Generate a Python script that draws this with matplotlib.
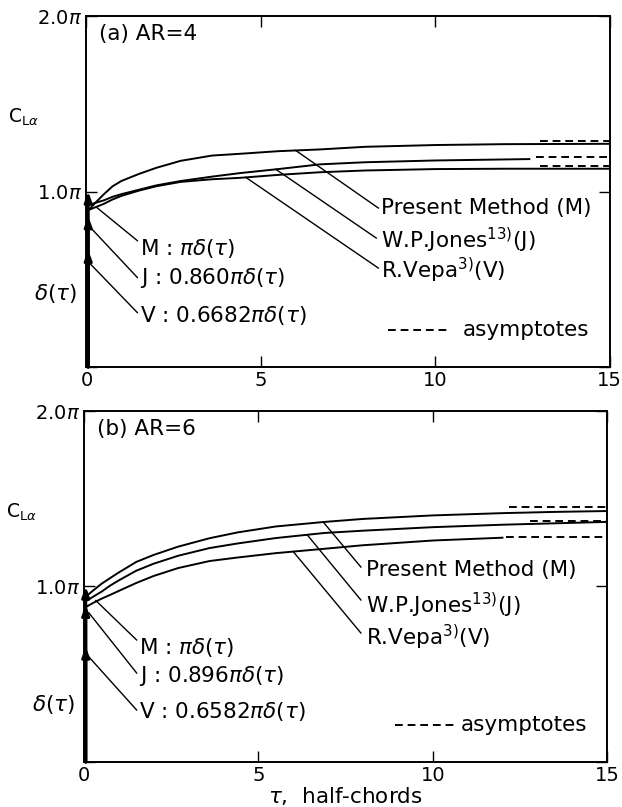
import numpy as np
import matplotlib.pyplot as plt

plt.rcParams['font.family'] = 'DejaVu Sans'
plt.rcParams['mathtext.fontset'] = 'dejavusans'

# C_La in units of pi, read against tau (half-chords)
# (a) AR = 4
tau_a = [0, 0.25, 0.5, 0.75, 1.0, 1.5, 2.0, 2.7, 3.6, 4.4, 5.5, 6.7, 8.0, 10.0, 12.0, 13.5, 15.0]
cl_m_a = [0.88, 0.935, 0.985, 1.03, 1.06, 1.10, 1.135, 1.175, 1.205, 1.215, 1.23, 1.24, 1.255, 1.265, 1.27, 1.271, 1.272]
tau_j_a = [0, 0.25, 0.5, 0.75, 1.0, 1.5, 2.0, 2.7, 3.6, 4.4, 5.5, 6.7, 8.0, 10.0, 12.7]
cl_j_a = [0.92, 0.935, 0.95, 0.97, 0.985, 1.01, 1.035, 1.06, 1.085, 1.105, 1.128, 1.155, 1.167, 1.177, 1.185]
cl_v_a = [0.89, 0.91, 0.93, 0.955, 0.975, 1.005, 1.03, 1.055, 1.07, 1.078, 1.095, 1.11, 1.12, 1.128, 1.13, 1.13, 1.13]
asym_a = [1.288, 1.197, 1.145]
asym_from_a = [13.0, 12.9, 13.0]
delta_coef_a = ['1', '0.860', '0.6682']

# (b) AR = 6
tau_b = [0, 0.25, 0.5, 0.75, 1.0, 1.5, 2.0, 2.7, 3.6, 4.4, 5.5, 6.9, 8.0, 10.0, 12.0, 13.5, 15.0]
cl_m_b = [0.934, 0.975, 1.015, 1.048, 1.08, 1.14, 1.18, 1.227, 1.275, 1.308, 1.342, 1.368, 1.385, 1.405, 1.418, 1.425, 1.43]
cl_j_b = [0.91, 0.94, 0.97, 1.005, 1.035, 1.09, 1.13, 1.175, 1.219, 1.245, 1.276, 1.305, 1.318, 1.338, 1.352, 1.36, 1.368]
tau_v_b = [0, 0.25, 0.5, 0.75, 1.0, 1.5, 2.0, 2.7, 3.6, 4.4, 5.5, 6.9, 8.0, 10.0, 12.0]
cl_v_b = [0.877, 0.905, 0.93, 0.952, 0.975, 1.02, 1.06, 1.105, 1.145, 1.165, 1.19, 1.215, 1.235, 1.262, 1.278]
asym_b = [1.453, 1.373, 1.28]
asym_from_b = [12.2, 12.8, 12.1]
delta_coef_b = ['1', '0.896', '0.6582']

method_names = ['M', 'J', 'V']
method_labels = ['Present Method (M)', r'W.P.Jones$^{\mathrm{13)}}$(J)', r'R.Vepa$^{\mathrm{3)}}$(V)']

FS = 15.5
TICK_FS = 14


def draw_panel(ax, title, curves, asym, asym_from, delta_coef, lay):
    ax.set_xlim(0, 15)
    ax.set_ylim(0, 2)
    ax.set_xticks([0, 5, 10, 15])
    ax.set_yticks([0, 1, 2])
    ax.set_yticklabels(['', r'1.0$\pi$', r'2.0$\pi$'])
    ax.tick_params(direction='in', length=8, width=1.0, top=True, right=True,
                   labelsize=TICK_FS, pad=3)
    for s in ax.spines.values():
        s.set_linewidth(1.4)

    # response curves and their asymptotes
    for (t, c), a, a0 in zip(curves, asym, asym_from):
        ax.plot(t, c, color='k', lw=1.4)
        ax.plot([a0, 15], [a, a], color='k', lw=1.4, ls=(0, (4, 2.5)))

    # impulsive parts at tau = 0
    xd = 0.05
    for coef in delta_coef:
        h = float(coef)
        ax.annotate('', xy=(xd, h), xytext=(xd, 0),
                    arrowprops=dict(arrowstyle='-|>,head_length=0.6,head_width=0.22',
                                    lw=2.2, color='k', shrinkA=0, shrinkB=0),
                    annotation_clip=False)

    # labels of the impulsive parts
    for name, coef, (x0, y0), (x1, y1), ty in zip(method_names, delta_coef,
                                                   lay['d_start'], lay['d_end'], lay['d_text']):
        ax.plot([x0, x1], [y0, y1], color='k', lw=1.0)
        c = '' if coef == '1' else coef
        ax.text(lay['d_x'], ty, name + ' : ' + c + r'$\pi\delta(\tau)$',
                fontsize=FS, va='center', ha='left')

    # labels of the curves
    for (t, c), ts, (x1, y1), ty, lab in zip(curves, lay['c_start'], lay['c_end'],
                                             lay['c_text'], method_labels):
        y0 = np.interp(ts, t, c)
        ax.plot([ts, x1], [y0, y1], color='k', lw=1.0)
        ax.text(lay['c_x'], ty, lab, fontsize=FS, va='center', ha='left')

    ax.plot(lay['a_line'], [lay['a_y']] * 2, color='k', lw=1.4, ls=(0, (4, 2.5)))
    ax.text(lay['a_x'], lay['a_y'], 'asymptotes', fontsize=FS, va='center', ha='left')

    ax.text(0.37, 1.9, title, fontsize=FS, va='center', ha='left')
    ax.text(-1.5, lay['delta_y'], r'$\delta(\tau)$', fontsize=FS, va='center', ha='left',
            clip_on=False)
    ax.text(-2.25, 1.425, r'C$_{\mathrm{L}\alpha}$', fontsize=FS - 2, va='center', ha='left',
            clip_on=False)


fig = plt.figure(figsize=(6.22, 8.07), dpi=100)
ax_a = fig.add_axes([0.139, 0.5452, 0.841, 0.4349])
ax_b = fig.add_axes([0.135, 0.0558, 0.841, 0.4349])

layout_a = dict(
    d_start=[(0.29, 0.91), (0.09, 0.80), (0.05, 0.60)],
    d_end=[(1.46, 0.72), (1.46, 0.51), (1.46, 0.31)],
    d_text=[0.678, 0.507, 0.296], d_x=1.53,
    c_start=[6.0, 5.43, 4.57],
    c_end=[(8.37, 0.906), (8.31, 0.735), (8.37, 0.564)],
    c_text=[0.906, 0.724, 0.553], c_x=8.46,
    a_line=[8.66, 10.46], a_y=0.21, a_x=10.8,
    delta_y=0.42,
)
layout_b = dict(
    d_start=[(0.34, 0.92), (0.14, 0.85), (0.09, 0.61)],
    d_end=[(1.51, 0.695), (1.51, 0.507), (1.51, 0.296)],
    d_text=[0.65, 0.49, 0.285], d_x=1.57,
    c_start=[6.86, 6.4, 6.0],
    c_end=[(7.94, 1.111), (7.94, 0.923), (7.94, 0.735)],
    c_text=[1.094, 0.895, 0.712], c_x=8.09,
    a_line=[8.91, 10.71], a_y=0.21, a_x=10.8,
    delta_y=0.325,
)

draw_panel(ax_a, '(a) AR=4',
           [(tau_a, cl_m_a), (tau_j_a, cl_j_a), (tau_a, cl_v_a)],
           asym_a, asym_from_a, delta_coef_a, layout_a)
draw_panel(ax_b, '(b) AR=6',
           [(tau_b, cl_m_b), (tau_b, cl_j_b), (tau_v_b, cl_v_b)],
           asym_b, asym_from_b, delta_coef_b, layout_b)

ax_b.set_xlabel(r'$\tau$,  half-chords', fontsize=FS, labelpad=0)

fig.savefig('out.png', dpi=100)
